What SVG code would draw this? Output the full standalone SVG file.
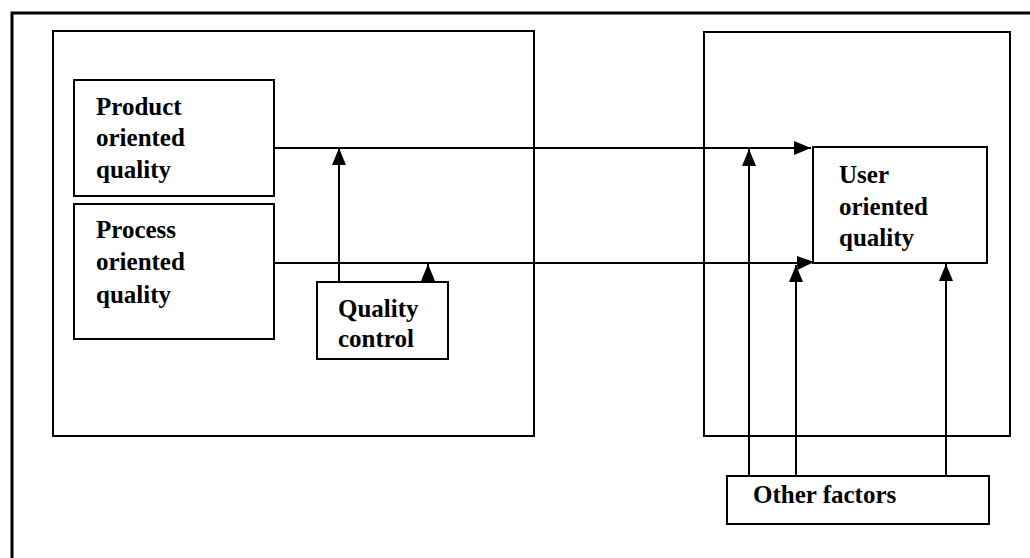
<svg xmlns="http://www.w3.org/2000/svg" width="1030" height="558" viewBox="0 0 1030 558">
<style>
.box{fill:#fff;stroke:#000;stroke-width:2}
.frame{fill:none;stroke:#000;stroke-width:2}
.c{stroke:#000;stroke-width:2;fill:none}
</style>
<defs>
<marker id="ah" markerWidth="17" markerHeight="14" viewBox="0 0 17 14" refX="17" refY="7" markerUnits="userSpaceOnUse" orient="auto">
<path d="M0,0 L17,7 L0,14 Z" fill="#000"/>
</marker>
</defs>
<rect width="1030" height="558" fill="#fff"/>
<g id="outer-frame">
<path d="M12,558 L12,13 L1030,13" fill="none" stroke="#000" stroke-width="3"/>
</g>
<g id="left-group"><rect class="frame" x="53" y="31" width="481" height="405"/></g>
<g id="right-group"><rect class="frame" x="704" y="32" width="306" height="404"/></g>
<g id="product">
<rect class="box" x="74" y="80" width="200" height="116"/>
<text x="96" y="115" font-family="Liberation Serif" font-size="25" font-weight="bold">Product</text>
<text x="96" y="146" font-family="Liberation Serif" font-size="25" font-weight="bold">oriented</text>
<text x="96" y="178" font-family="Liberation Serif" font-size="25" font-weight="bold">quality</text>
</g>
<g id="process">
<rect class="box" x="74" y="204" width="200" height="135"/>
<text x="96" y="238" font-family="Liberation Serif" font-size="25" font-weight="bold">Process</text>
<text x="96" y="270" font-family="Liberation Serif" font-size="25" font-weight="bold">oriented</text>
<text x="96" y="303" font-family="Liberation Serif" font-size="25" font-weight="bold">quality</text>
</g>
<g id="quality-control">
<rect class="box" x="317" y="282" width="131" height="77"/>
<text x="338" y="317" font-family="Liberation Serif" font-size="25" font-weight="bold">Quality</text>
<text x="338" y="347" font-family="Liberation Serif" font-size="25" font-weight="bold">control</text>
</g>
<g id="user">
<rect class="box" x="813" y="147" width="174" height="116"/>
<text x="839" y="183" font-family="Liberation Serif" font-size="25" font-weight="bold">User</text>
<text x="839" y="215" font-family="Liberation Serif" font-size="25" font-weight="bold">oriented</text>
<text x="839" y="246" font-family="Liberation Serif" font-size="25" font-weight="bold">quality</text>
</g>
<g id="other-factors">
<rect class="box" x="727" y="476" width="262" height="48"/>
<text x="753" y="503" font-family="Liberation Serif" font-size="25" font-weight="bold">Other factors</text>
</g>
<g id="connectors">
<path class="c" d="M274,148 L811,148" marker-end="url(#ah)"/>
<path class="c" d="M274,263 L796,263 L814,262" marker-end="url(#ah)"/>
<path class="c" d="M339,282 L339,148" marker-end="url(#ah)"/>
<path class="c" d="M428,282 L428,264" marker-end="url(#ah)"/>
<path class="c" d="M749,476 L749,149" marker-end="url(#ah)"/>
<path class="c" d="M796,476 L796,265" marker-end="url(#ah)"/>
<path class="c" d="M946,476 L946,264" marker-end="url(#ah)"/>
</g>
</svg>
